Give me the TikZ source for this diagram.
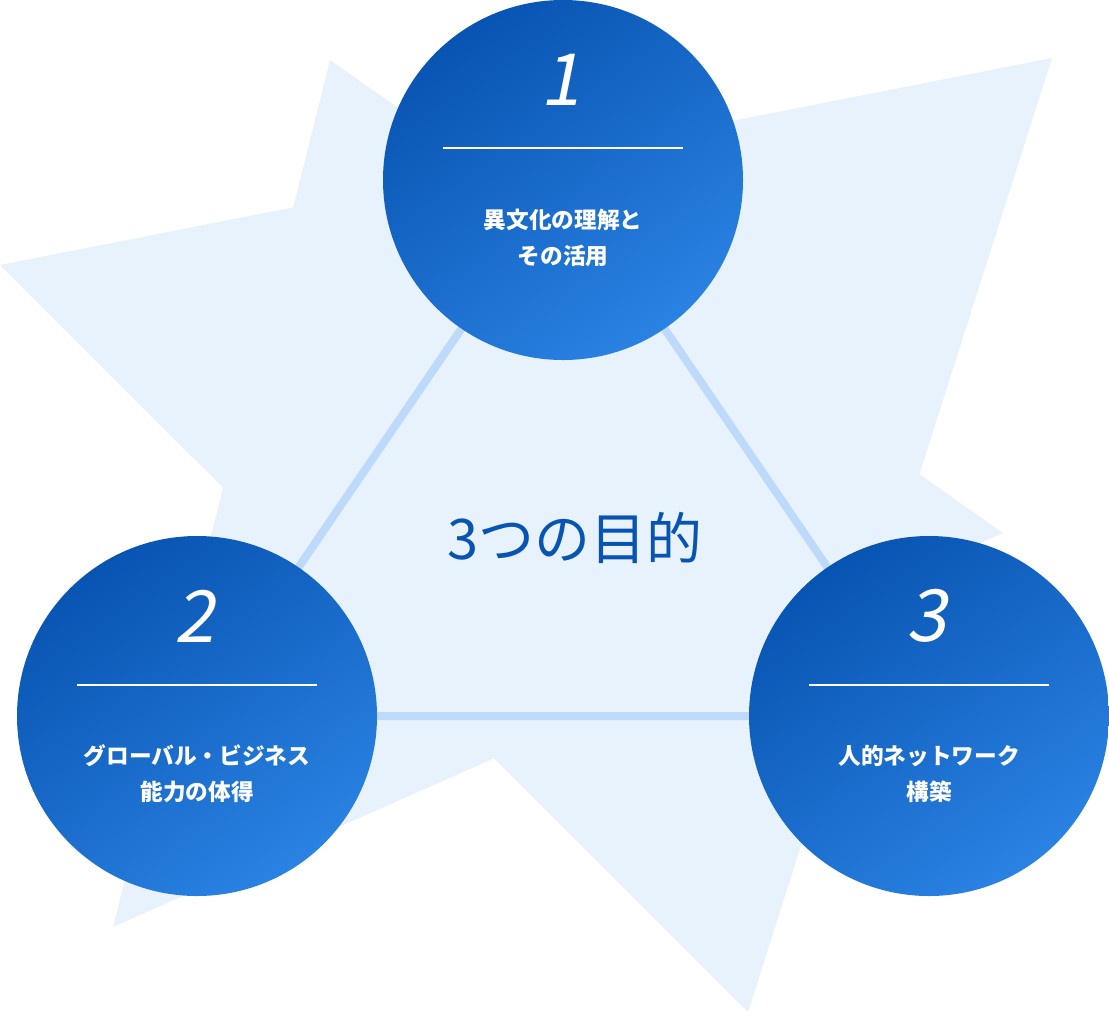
\documentclass[tikz,border=0pt]{standalone}
\usepackage{fontspec}
\setmainfont{Noto Sans CJK JP}
\newfontfamily\numfont[FakeSlant=0.2]{Noto Sans CJK JP}
\definecolor{bgblue}{RGB}{232,242,253}
\definecolor{linkblue}{RGB}{190,218,250}
\definecolor{deepblue}{RGB}{8,84,178}
\definecolor{lightblue}{RGB}{42,130,226}
\tikzset{
  goal/.style={circle, minimum size=270pt, inner sep=0pt,
    top color=deepblue, bottom color=lightblue, shading angle=35},
  goalnum/.style={text=white, font=\numfont\fontsize{54}{54}\selectfont},
  goaltext/.style={text=white, align=center, font=\fontsize{17}{27}\selectfont\bfseries},
  rule/.style={white, line width=0.8pt}
}
\begin{document}
\begin{tikzpicture}[x=0.75pt,y=0.75pt,yscale=-1,xscale=1]
    \useasboundingbox (0,0) rectangle (1109,1015);
    % background star
    \fill [bgblue] (0,265) -- (1052,58) -- (748,1012) -- cycle ;
    \fill [bgblue] (330,60) -- (113,927) -- (1003,533) -- cycle ;
    % circle centres
    \coordinate (p1) at (563,180);
    \coordinate (p2) at (197,716);
    \coordinate (p3) at (929,716);
    \draw [linkblue, line width=6pt] (p1) -- (p2) -- (p3) -- cycle ;
    % goals
    \node [goal] (g1) at (p1) {};
    \node [goal] (g2) at (p2) {};
    \node [goal] (g3) at (p3) {};
    \node [goalnum] (n1) at (560,80) {1};
    \node [goalnum] (n2) at (194,616) {2};
    \node [goalnum] (n3) at (926,616) {3};
    \draw [rule] (443,148) -- (683,148) ;
    \draw [rule] (77,685) -- (317,685) ;
    \draw [rule] (809,685) -- (1049,685) ;
    \node [goaltext] (t1) at (563,238) {異文化の理解と\\その活用};
    \node [goaltext] (t2) at (197,774) {グローバル・ビジネス\\能力の体得};
    \node [goaltext] (t3) at (929,774) {人的ネットワーク\\構築};
    % centre title
    \node [text=deepblue, font=\fontsize{42}{42}\selectfont] (title) at (575,538) {3つの目的};
\end{tikzpicture}
\end{document}
